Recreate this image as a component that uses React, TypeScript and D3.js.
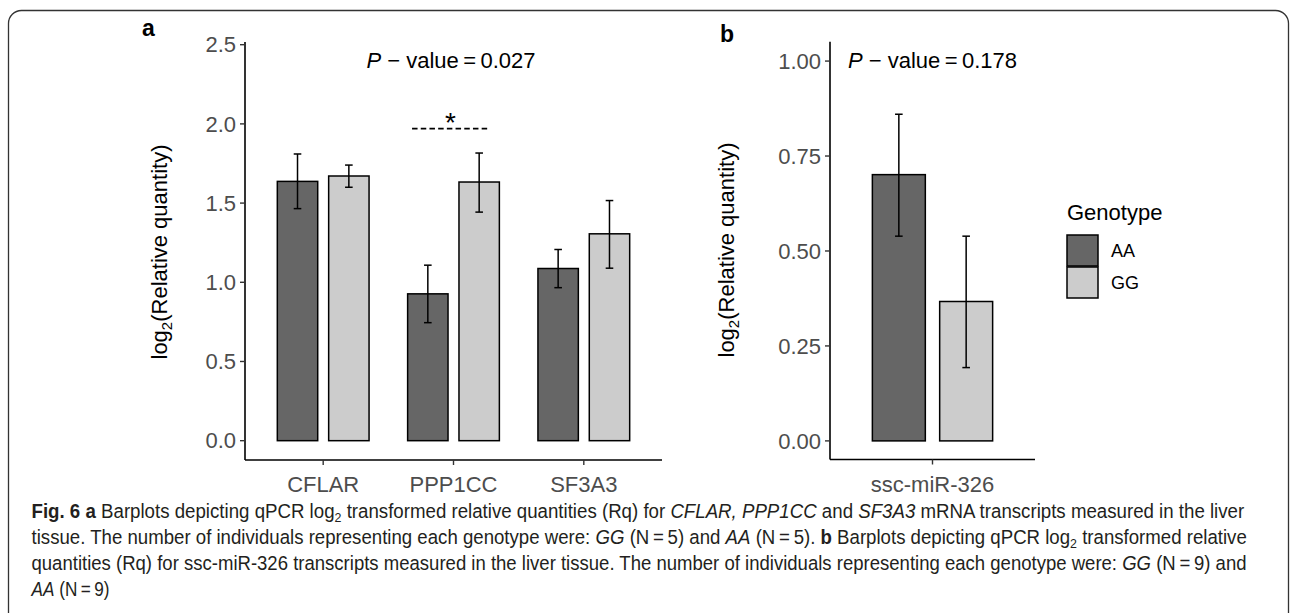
import * as d3 from "d3";
import React, { useLayoutEffect, useRef, useState } from "react";

// panel a values
const genesA = ["CFLAR", "PPP1CC", "SF3A3"];
const genotypes = ["AA", "GG"];
const meanAA = [1.637, 0.927, 1.087];
const meanGG = [1.671, 1.633, 1.306];
const lowAA = [1.465, 0.745, 0.966];
const highAA = [1.81, 1.108, 1.207];
const lowGG = [1.6, 1.443, 1.089];
const highGG = [1.74, 1.816, 1.516];
const ticksA = [0, 0.5, 1.0, 1.5, 2.0, 2.5];

// panel b values
const genesB = ["ssc-miR-326"];
const meanB = [0.701, 0.367];
const lowB = [0.539, 0.193];
const highB = [0.86, 0.539];
const ticksB = [0, 0.25, 0.5, 0.75, 1.0];

const pA = "0.027";
const pB = "0.178";
const sigGene = "PPP1CC";
const sigLevel = 1.97;

const FONT = "'Liberation Sans', Arial, Helvetica, sans-serif";
const fillOf: Record<string, string> = { AA: "#666666", GG: "#CCCCCC" };

const BAR_W = 0.31;
const DODGE = 0.197;
const CAP = 3.8;

function YTitle({ x, y }: { x: number; y: number }) {
  return (
    <text transform={`translate(${x},${y}) rotate(-90)`} textAnchor="middle" fontSize={22} fill="#000">
      log<tspan fontSize={15} dy={5}>2</tspan>
      <tspan dy={-5}>(Relative quantity)</tspan>
    </text>
  );
}

function Axes({ x, y, left, right, top, bottom, ticks, fmt, cats }: any) {
  return (
    <g fontFamily={FONT}>
      <line x1={left} x2={left} y1={top} y2={bottom} stroke="#000" strokeWidth={1.6} />
      <line x1={left} x2={right} y1={bottom} y2={bottom} stroke="#000" strokeWidth={1.6} />
      {ticks.map((t: number) => (
        <g key={t}>
          <line x1={left - 5} x2={left} y1={y(t)} y2={y(t)} stroke="#333" strokeWidth={1.4} />
          <text x={left - 9} y={y(t)} dy="0.35em" textAnchor="end" fontSize={22} fill="#4D4D4D">
            {fmt(t)}
          </text>
        </g>
      ))}
      {cats.map((c: string) => (
        <g key={c}>
          <line x1={x(c)} x2={x(c)} y1={bottom} y2={bottom + 5} stroke="#333" strokeWidth={1.4} />
          <text x={x(c)} y={492} textAnchor="middle" fontSize={22} fill="#4D4D4D">
            {c}
          </text>
        </g>
      ))}
    </g>
  );
}

function Bar({ cx, w, y, mean, lo, hi, g }: any) {
  return (
    <g>
      <rect x={cx - w / 2} y={y(mean)} width={w} height={y(0) - y(mean)} fill={fillOf[g]} stroke="#000" strokeWidth={1.5} />
      <line x1={cx} x2={cx} y1={y(hi)} y2={y(lo)} stroke="#000" strokeWidth={1.5} />
      <line x1={cx - CAP} x2={cx + CAP} y1={y(hi)} y2={y(hi)} stroke="#000" strokeWidth={1.5} />
      <line x1={cx - CAP} x2={cx + CAP} y1={y(lo)} y2={y(lo)} stroke="#000" strokeWidth={1.5} />
    </g>
  );
}

function PText({ x, y, p }: { x: number; y: number; p: string }) {
  return (
    <text x={x} y={y} textAnchor="middle" fontSize={22} fill="#000" fontFamily={FONT}>
      <tspan fontStyle="italic">P</tspan>
      {"  \u2212  value\u2009=\u2009" + p}
    </text>
  );
}

// caption line: measured, then squeezed horizontally to the justified width
function FitLine({ x, y, width, children }: any) {
  const ref = useRef<SVGTextElement>(null);
  const [s, setS] = useState(1);
  useLayoutEffect(() => {
    if (ref.current) {
      const w = ref.current.getComputedTextLength();
      if (w > 0) setS(width / w);
    }
  }, [width]);
  return (
    <text ref={ref} transform={`translate(${x},${y}) scale(${s},1)`}>
      {children}
    </text>
  );
}

export default function App() {
  // panel a scales
  const xA = d3.scalePoint<string>().domain(genesA).range([245, 662]).padding(0.6);
  const yA = d3.scaleLinear().domain([-0.122, 2.517]).range([460, 42]);
  const stepA = xA.step();

  // panel b scales
  const xB = d3.scalePoint<string>().domain(genesB).range([830, 1035]).padding(0.6);
  const yB = d3.scaleLinear().domain([-0.049, 1.051]).range([459.5, 41.7]);
  const stepB = xB.step();

  const sx = xA(sigGene)!;

  return (
    <svg width={1293} height={613} style={{ position: "absolute", left: 0, top: 0, background: "#fff" }} fontFamily={FONT}>
      <rect x={8.5} y={10.5} width={1280} height={620} rx={13} fill="none" stroke="#333" strokeWidth={1.3} />

      {/* panel a */}
      <text x={142} y={36} fontSize={23} fontWeight="bold">a</text>
      <YTitle x={167} y={252} />
      <Axes x={xA} y={yA} left={245} right={662} top={42} bottom={460} ticks={ticksA} fmt={d3.format(".1f")} cats={genesA} />
      {genesA.map((g, i) => (
        <g key={g}>
          <Bar cx={xA(g)! - DODGE * stepA} w={BAR_W * stepA} y={yA} mean={meanAA[i]} lo={lowAA[i]} hi={highAA[i]} g={genotypes[0]} />
          <Bar cx={xA(g)! + DODGE * stepA} w={BAR_W * stepA} y={yA} mean={meanGG[i]} lo={lowGG[i]} hi={highGG[i]} g={genotypes[1]} />
        </g>
      ))}
      <PText x={451} y={68} p={pA} />
      <line x1={sx - 0.318 * stepA} x2={sx + 0.278 * stepA} y1={yA(sigLevel)} y2={yA(sigLevel)} stroke="#000" strokeWidth={1.8} strokeDasharray="5.5,3.2" />
      <text x={sx - 3} y={132} textAnchor="middle" fontSize={28}>*</text>

      {/* panel b */}
      <text x={720} y={42} fontSize={23} fontWeight="bold">b</text>
      <YTitle x={734} y={250} />
      <Axes x={xB} y={yB} left={830} right={1035} top={41.7} bottom={459.5} ticks={ticksB} fmt={d3.format(".2f")} cats={genesB} />
      {genesB.map((g) => (
        <g key={g}>
          <Bar cx={xB(g)! - DODGE * stepB} w={BAR_W * stepB} y={yB} mean={meanB[0]} lo={lowB[0]} hi={highB[0]} g={genotypes[0]} />
          <Bar cx={xB(g)! + DODGE * stepB} w={BAR_W * stepB} y={yB} mean={meanB[1]} lo={lowB[1]} hi={highB[1]} g={genotypes[1]} />
        </g>
      ))}
      <PText x={xB(genesB[0])!} y={68} p={pB} />

      {/* legend */}
      <text x={1067} y={220} fontSize={22}>Genotype</text>
      {genotypes.map((g, i) => (
        <g key={g}>
          <rect x={1067} y={235 + i * 32} width={31} height={31} fill={fillOf[g]} stroke="#000" strokeWidth={1.5} />
          <text x={1111} y={251 + i * 32} dy="0.35em" fontSize={18}>{g}</text>
        </g>
      ))}

      {/* caption */}
      <g fontFamily={FONT} fontSize={19.5} fill="#231F20">
        <FitLine x={31.5} y={518} width={1214}>
          <tspan fontWeight="bold">Fig. 6</tspan>{"  "}<tspan fontWeight="bold">a</tspan>
          {" Barplots depicting qPCR log"}<tspan fontSize={13} dy={4}>2</tspan>
          <tspan dy={-4}>{" transformed relative quantities (Rq) for "}</tspan>
          <tspan fontStyle="italic">CFLAR, PPP1CC</tspan>{" and "}<tspan fontStyle="italic">SF3A3</tspan>
          {" mRNA transcripts measured in the liver"}
        </FitLine>
        <FitLine x={31.5} y={544} width={1216}>
          {"tissue. The number of individuals representing each genotype were: "}
          <tspan fontStyle="italic">GG</tspan>{" (N\u2009=\u20095) and "}<tspan fontStyle="italic">AA</tspan>
          {" (N\u2009=\u20095). "}<tspan fontWeight="bold">b</tspan>{" Barplots depicting qPCR log"}
          <tspan fontSize={13} dy={4}>2</tspan><tspan dy={-4}>{" transformed relative"}</tspan>
        </FitLine>
        <FitLine x={31.5} y={570} width={1216}>
          {"quantities (Rq) for ssc-miR-326 transcripts measured in the liver tissue. The number of individuals representing each genotype were: "}
          <tspan fontStyle="italic">GG</tspan>{" (N\u2009=\u20099) and"}
        </FitLine>
        <FitLine x={31.5} y={596} width={78}>
          <tspan fontStyle="italic">AA</tspan>{" (N\u2009=\u20099)"}
        </FitLine>
      </g>
    </svg>
  );
}
